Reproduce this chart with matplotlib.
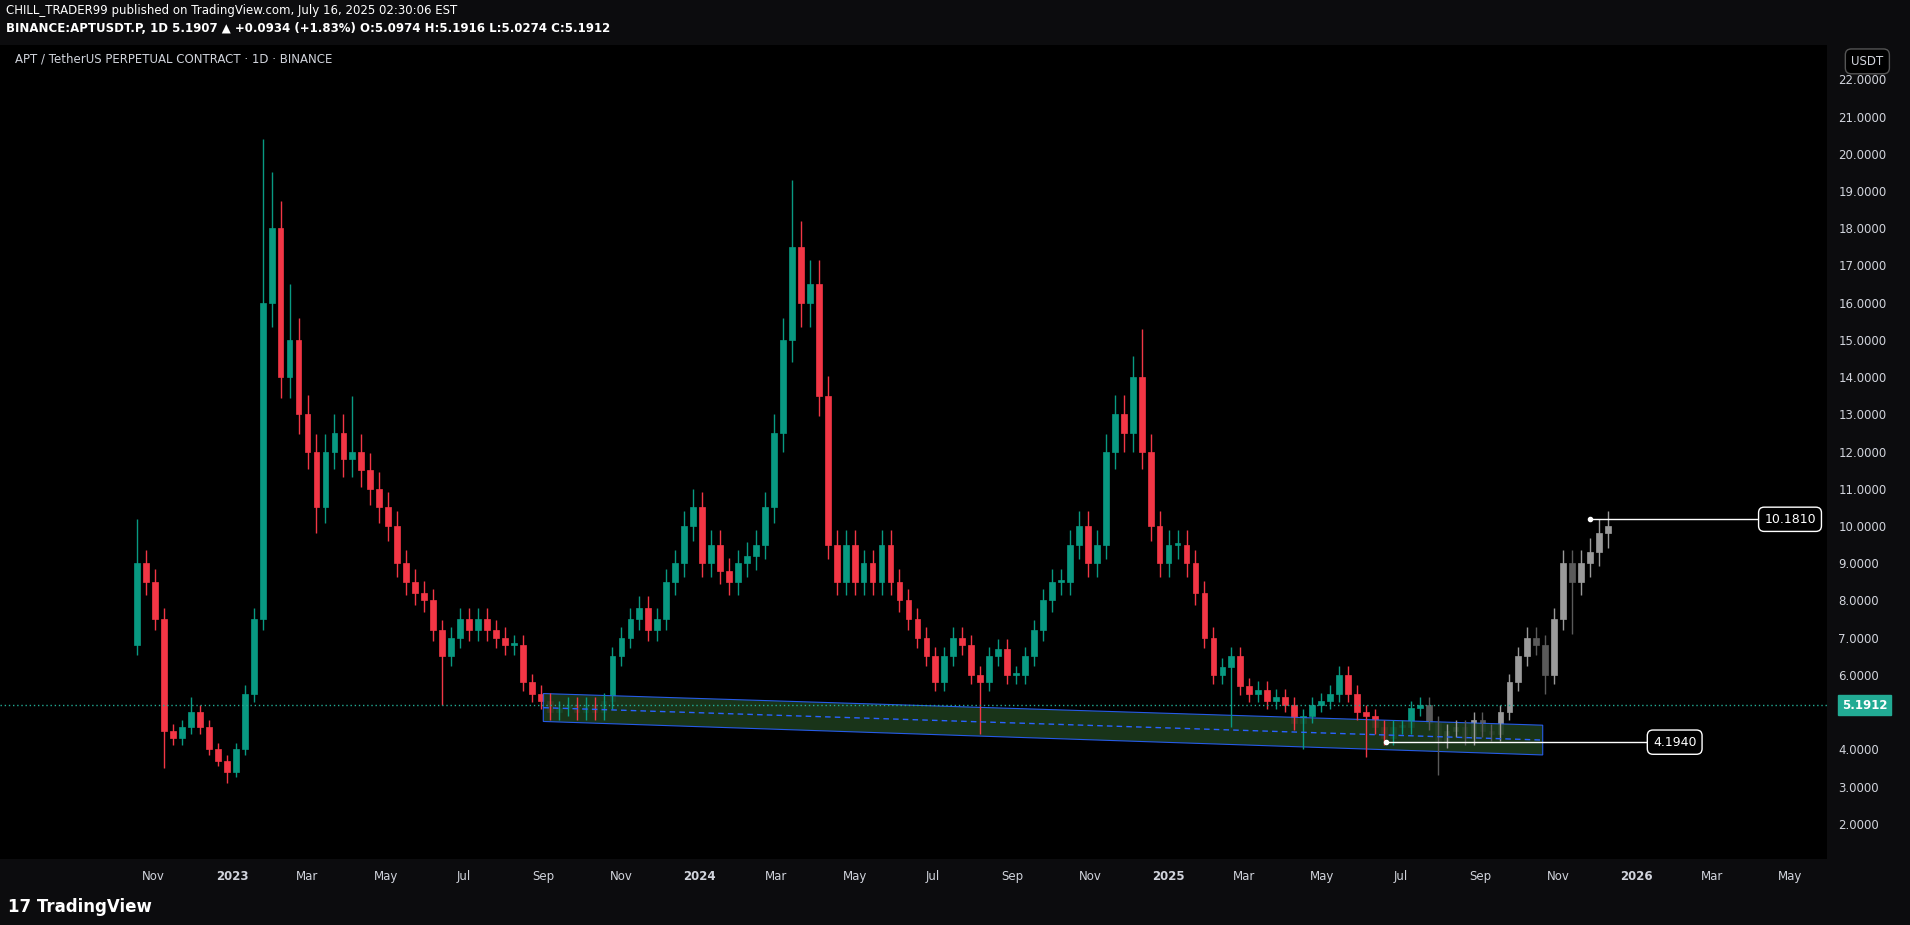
import matplotlib
matplotlib.use("Agg")
import matplotlib.pyplot as plt
import matplotlib.dates as mdates
from matplotlib.patches import Polygon
import datetime as dt

start = dt.date(2022, 10, 19)
closes = [9.0, 8.5, 7.5, 4.5, 4.3, 4.6, 5.0, 4.6, 4.0, 3.7, 3.4,
          4.0, 5.5, 7.5, 16.0, 18.0, 14.0, 15.0, 13.0, 12.0, 10.5, 12.0, 12.5, 11.8, 12.0, 11.5, 11.0, 10.5,
          10.0, 9.0, 8.5, 8.2, 8.0, 7.2, 6.5, 7.0, 7.5, 7.2, 7.5, 7.2, 7.0, 6.8, 6.8, 5.8, 5.5, 5.3, 5.0,
          5.1, 5.2, 5.0, 5.2, 5.0, 5.3, 6.5, 7.0, 7.5, 7.8, 7.2, 7.5, 8.5, 9.0, 10.0, 10.5,
          9.0, 9.5, 8.8, 8.5, 9.0, 9.2, 9.5, 10.5, 12.5, 15.0, 17.5, 16.0, 16.5, 13.5, 9.5, 8.5, 9.5,
          8.5, 9.0, 8.5, 9.5, 8.5, 8.0, 7.5, 7.0, 6.5, 5.8, 6.5, 7.0, 6.8, 6.0, 5.8, 6.5, 6.7, 6.0,
          6.0, 6.5, 7.2, 8.0, 8.5, 8.5, 9.5, 10.0, 9.0, 9.5, 12.0, 13.0, 12.5, 14.0, 12.0, 10.0, 9.0,
          9.5, 9.5, 9.0, 8.2, 7.0, 6.0, 6.2, 6.5, 5.7, 5.5, 5.6, 5.3, 5.4, 5.2, 4.7, 4.9, 5.2, 5.3,
          5.5, 6.0, 5.5, 5.0, 4.9, 4.6, 4.3, 4.6, 4.6, 5.1, 5.19]
first_open = 6.8
wick_high = {0: 10.2, 14: 20.4, 15: 19.5, 17: 16.5, 24: 13.5, 62: 11.0, 73: 19.3, 112: 15.3, 6: 5.4}
wick_low = {3: 3.5, 10: 3.1, 20: 9.8, 34: 5.2, 94: 4.4, 122: 4.6, 130: 4.0, 137: 3.8}

proj_start = dt.date(2025, 7, 23)
proj_closes = [4.7, 4.2, 4.5, 4.6, 4.3, 4.8, 4.5, 4.4, 5.0, 5.8, 6.5, 7.0, 6.8, 6.0, 7.5, 9.0, 8.5, 9.0, 9.3, 9.8, 10.0]
proj_wick_low = {1: 3.3, 13: 5.5, 16: 7.1}
proj_wick_high = {20: 10.4}

last_price = 5.1912
level_low = 4.1940
level_high = 10.1810

fig = plt.figure(figsize=(19.1, 9.25), dpi=100)
fig.patch.set_facecolor("#0c0c0e")
ax = fig.add_axes([0, 1 - 705 / 759, 1500 / 1568, (705 - 37) / 759])
ax.set_facecolor("#000000")

def dn(d):
    return mdates.date2num(d)

def draw(st, cl, op0, hi, lo, upc, dnc):
    prev = op0
    for i, c in enumerate(cl):
        d = dn(st + dt.timedelta(days=7 * i))
        o = prev
        top, bot = max(o, c), min(o, c)
        h = hi.get(i, top * 1.04)
        l = lo.get(i, bot * 0.96)
        col = upc if c >= o else dnc
        ax.vlines(d, l, h, color=col, lw=1)
        ax.bar(d, max(top - bot, 0.05), bottom=bot, width=4.5, color=col, edgecolor=col, lw=0.5)
        prev = c

draw(start, closes, first_open, wick_high, wick_low, "#089981", "#f23645")
draw(proj_start, proj_closes, closes[-1], proj_wick_high, proj_wick_low, "#9a9a9a", "#5a5a5a")

x0, x1 = dn(dt.date(2023, 9, 1)), dn(dt.date(2025, 10, 20))
poly = Polygon([[x0, 5.5], [x1, 4.65], [x1, 3.85], [x0, 4.75]], closed=True,
               facecolor="#1c3a1c", edgecolor="#2962ff", lw=0.8, alpha=0.9)
ax.add_patch(poly)
ax.plot([x0, x1], [5.12, 4.25], ls=(0, (4, 3)), color="#2962ff", lw=1)

ax.axhline(last_price, color="#22ab94", ls=(0, (1, 2)), lw=1)

lx0, lx1 = dn(dt.date(2025, 6, 20)), dn(dt.date(2026, 1, 12))
ax.plot([lx0, lx1], [level_low] * 2, color="white", lw=1)
ax.plot(lx0, level_low, "o", color="white", ms=3)
ax.text(dn(dt.date(2026, 1, 31)), level_low, f"{level_low:.4f}", color="white", ha="center", va="center",
        fontsize=9, bbox=dict(boxstyle="round,pad=0.45", fc="black", ec="white", lw=1))
hx0, hx1 = dn(dt.date(2025, 11, 26)), dn(dt.date(2026, 4, 10))
ax.plot([hx0, hx1], [level_high] * 2, color="white", lw=1)
ax.plot(hx0, level_high, "o", color="white", ms=3)
ax.text(dn(dt.date(2026, 5, 1)), level_high, f"{level_high:.4f}", color="white", ha="center", va="center",
        fontsize=9, bbox=dict(boxstyle="round,pad=0.45", fc="black", ec="white", lw=1))

ax.set_xlim(dn(dt.date(2022, 7, 4)), dn(dt.date(2026, 5, 30)))
ax.set_ylim(1.05, 22.92)

ax.yaxis.tick_right()
yt = [v for v in range(2, 23) if v != 5]
ax.set_yticks(yt)
ax.set_yticklabels([f"{v:.4f}" for v in yt])
ticks, labels = [], []
for y in (2022, 2023, 2024, 2025, 2026):
    for m in (1, 3, 5, 7, 9, 11):
        d = dt.date(y, m, 1)
        if dt.date(2022, 10, 1) < d < dt.date(2026, 5, 30):
            ticks.append(dn(d))
            labels.append(str(y) if m == 1 else d.strftime("%b"))
ax.set_xticks(ticks)
ax.set_xticklabels(labels)
for t in ax.get_xticklabels():
    if t.get_text().isdigit():
        t.set_fontweight("bold")
ax.tick_params(colors="#d1d4dc", labelsize=8.5, length=0, pad=8)
for s in ax.spines.values():
    s.set_visible(False)

ax.text(1.008, (last_price - 1.05) / (22.92 - 1.05), f"{last_price:.4f}", transform=ax.transAxes,
        color="white", fontsize=8.5, fontweight="bold", va="center", ha="left",
        bbox=dict(boxstyle="square,pad=0.3", fc="#22ab94", ec="#22ab94"))
ax.text(1.022, 0.98, "USDT", transform=ax.transAxes, color="#d1d4dc", fontsize=8.5, va="center", ha="center",
        bbox=dict(boxstyle="round,pad=0.5", fc="black", ec="#555", lw=1))

ax.text(0.008, 0.983, "APT / TetherUS PERPETUAL CONTRACT · 1D · BINANCE", transform=ax.transAxes,
        color="#d1d4dc", fontsize=8.5, va="center")

fig.text(0.003, 1 - 9 / 759, "CHILL_TRADER99 published on TradingView.com, July 16, 2025 02:30:06 EST",
         color="white", fontsize=8.5, va="center")
fig.text(0.003, 1 - 23 / 759, "BINANCE:APTUSDT.P, 1D 5.1907 ▲ +0.0934 (+1.83%) O:5.0974 H:5.1916 L:5.0274 C:5.1912",
         color="white", fontsize=8.5, va="center", fontweight="bold")
fig.text(0.004, 1 - 744 / 759, "17 TradingView", color="white", fontsize=12, fontweight="bold", va="center")

fig.savefig("out.png", dpi=100, facecolor=fig.get_facecolor())
